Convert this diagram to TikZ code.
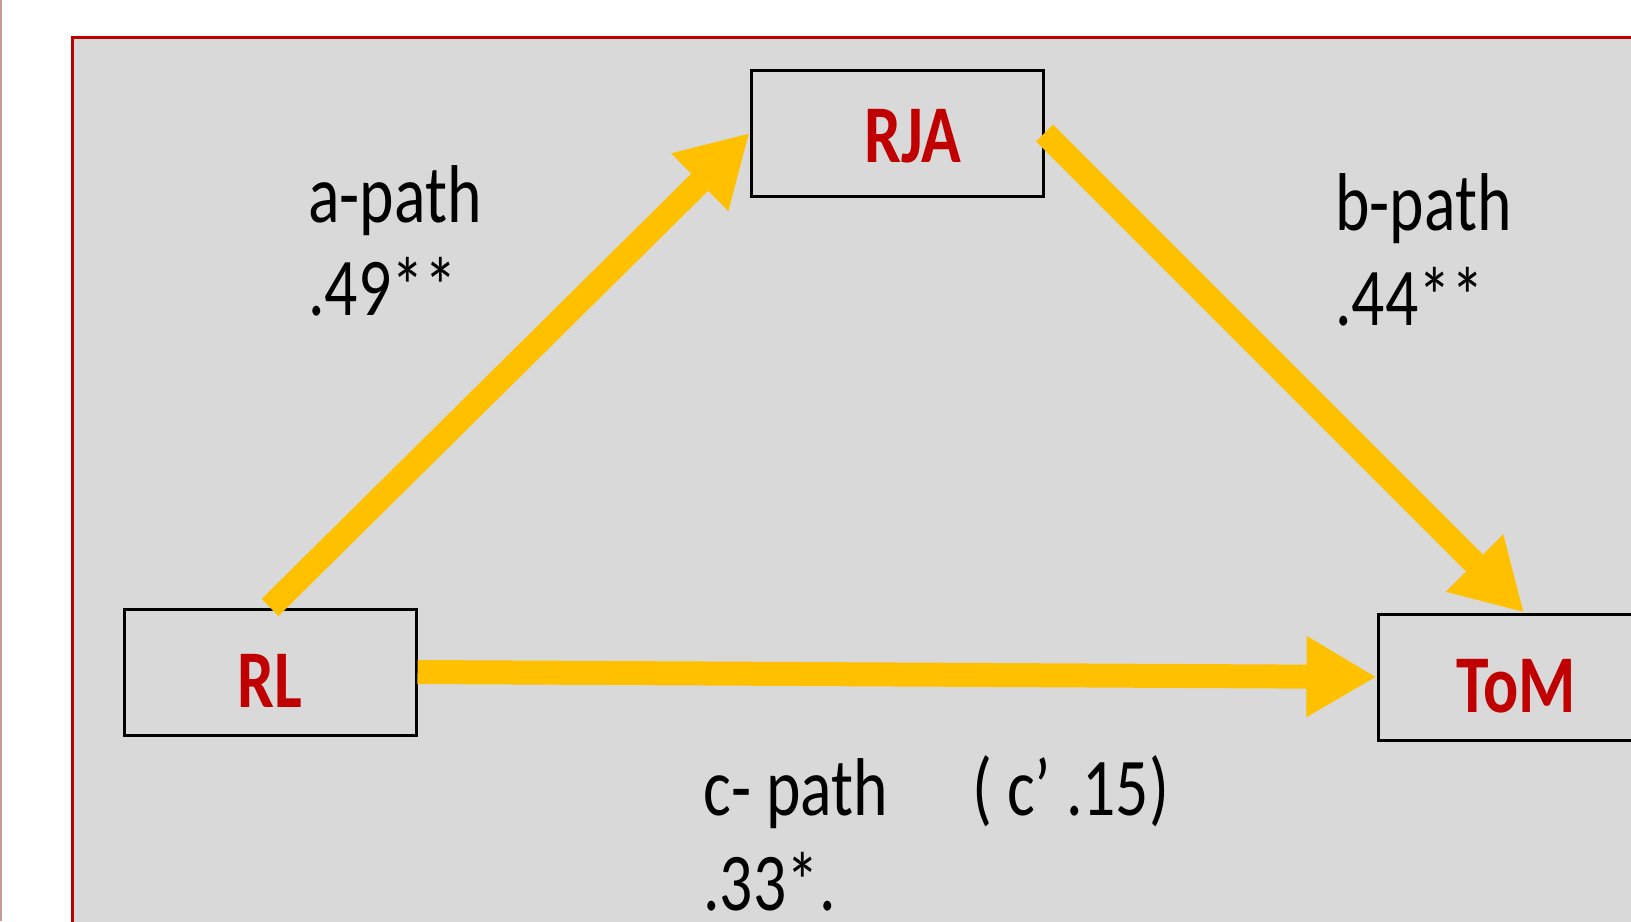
\documentclass[tikz,border=0pt]{standalone}
\usepackage{fontspec}
\setmainfont[FakeStretch=0.8]{Carlito}
\usetikzlibrary{arrows.meta}
\definecolor{panelgray}{HTML}{D9D9D9}
\definecolor{darkred}{HTML}{C00000}
\definecolor{gold}{HTML}{FFC000}
\definecolor{edgepink}{HTML}{C99A9A}
\begin{document}
\begin{tikzpicture}[x=0.5pt,y=-0.5pt,
  varbox/.style={draw=black,line width=1.5pt,minimum width=146pt,minimum height=63pt,
    inner sep=0pt,text height=35.4pt,text depth=0pt,
    font=\fontsize{41}{49}\selectfont\bfseries,text=darkred},
  patharrow/.style={draw=gold,line width=12pt,-{Triangle[length=35pt,width=38pt,fill=gold]}},
  lbl/.style={anchor=base west,inner sep=0pt,font=\fontsize{41}{49}\selectfont,text=black}]
\useasboundingbox (0,0) rectangle (1631,921);
\clip (0,0) rectangle (1631,921);
\draw[edgepink,line width=1pt] (1,0) -- (1,921);
\fill[panelgray] (72.5,37.5) rectangle (1650,940);
\draw[darkred,line width=1.5pt] (72.5,940) -- (72.5,37.5) -- (1650,37.5);
\node[varbox] (RL) at (270,672) {RL};
\node[varbox,text height=29.4pt] (RJA) at (897,133) {\hspace*{16pt}RJA};
\node[varbox] (ToM) at (1524,677) {ToM\hspace*{8pt}};
\draw[patharrow] (RL.north) -- (RJA.west);
\draw[patharrow] (RJA.east) -- (ToM.north);
\draw[patharrow] (RL.east) -- (ToM.west);
\node[lbl] (aPath) at (308,222) {a-path};
\node[lbl] (aVal) at (308,315) {.49**};
\node[lbl] (bPath) at (1335,230) {b-path};
\node[lbl] (bVal) at (1335,325) {.44**};
\node[lbl] (cPath) at (703,815) {c- path};
\node[lbl] (cVal) at (703,910) {.33*.};
\node[lbl] (cPrime) at (972,815) {( c’ .15)};
\end{tikzpicture}
\end{document}
